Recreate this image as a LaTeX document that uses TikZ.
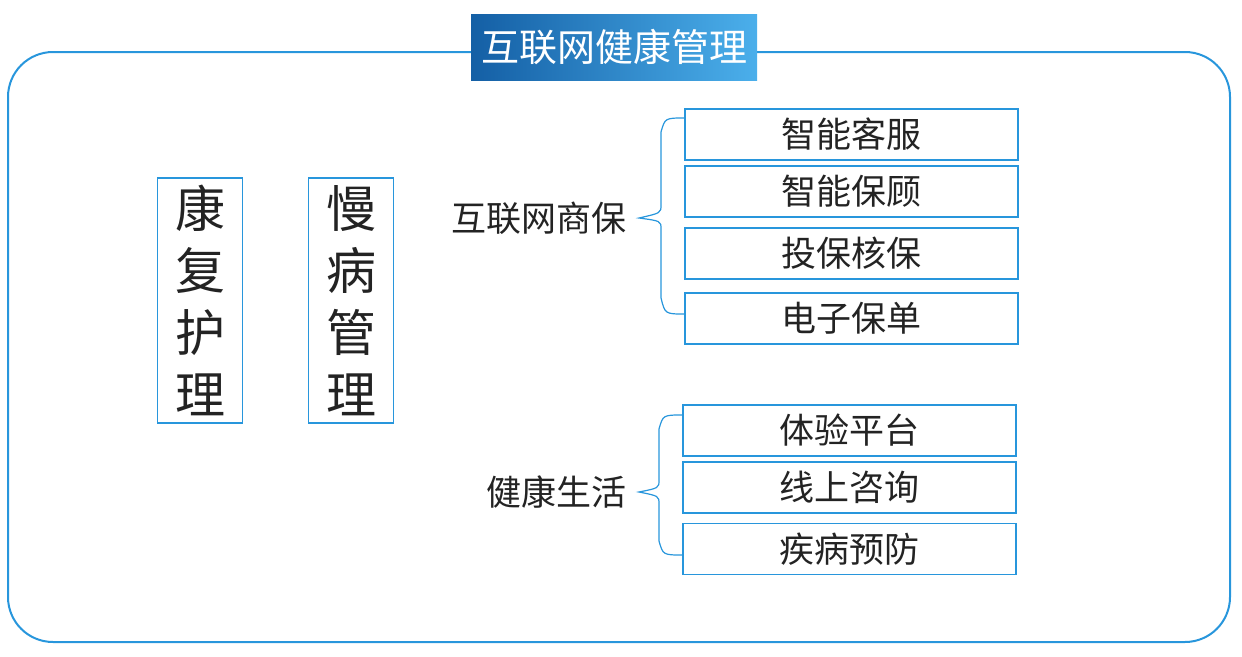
\documentclass[tikz,border=0pt]{standalone}
\usepackage{fontspec}
\setmainfont{Noto Sans CJK SC}
\definecolor{frameblue}{RGB}{40,150,220}
\definecolor{titledark}{RGB}{20,95,165}
\definecolor{titlelight}{RGB}{75,175,235}
\definecolor{textgray}{RGB}{35,35,35}
\tikzset{
  itembox/.style={draw=frameblue,line width=1.2pt,minimum width=333pt,minimum height=51pt,inner sep=0pt,font=\fontsize{35}{40}\selectfont,text=textgray},
  vbox/.style={draw=frameblue,line width=1.5pt,minimum width=85pt,minimum height=245pt,inner sep=0pt,font=\fontsize{50}{62}\selectfont,text=textgray,align=center},
  grplabel/.style={font=\fontsize{35}{40}\selectfont,text=textgray,anchor=east,inner sep=0pt},
  bracket/.style={draw=frameblue,line width=1.2pt}
}
\begin{document}
\begin{tikzpicture}[x=1pt,y=-1pt]
  \useasboundingbox (0,0) rectangle (1242,656);
  % frame
  \draw [frameblue,line width=2pt,rounded corners=45pt] (8,52) rectangle (1230,642);
  % title
  \shade [left color=titledark,right color=titlelight] (471,14) rectangle (757,80);
  \node (title) at (614,47) [text=white,font=\fontsize{38}{42}\selectfont] {互联网健康管理};
  % vertical boxes
  \node (rehab) [vbox] at (200,300.5) {康\\复\\护\\理};
  \node (chronic) [vbox] at (351,300.5) {慢\\病\\管\\理};
  % group: insurance
  \node (ins) [grplabel] at (627,218) {互联网商保};
  \node (kefu) [itembox] at (851.5,134.5) {智能客服};
  \node (baogu) [itembox] at (851.5,191.5) {智能保顾};
  \node (hebao) [itembox] at (851.5,253.5) {投保核保};
  \node (baodan) [itembox] at (851.5,318.5) {电子保单};
  \draw [bracket] (685,118) .. controls (665,118) .. (661,132) -- (661,205)
    .. controls (661,213) .. ([xshift=12pt]ins.east) .. controls (661,221) .. (661,229) -- (661,298)
    .. controls (665,314) .. (685,314);
  % group: life
  \node (life) [grplabel] at (627,492) {健康生活};
  \node (tiyan) [itembox] at (849.5,430.5) {体验平台};
  \node (zixun) [itembox] at (849.5,487.5) {线上咨询};
  \node (yufang) [itembox] at (849.5,549) {疾病预防};
  \draw [bracket] (683,415) .. controls (663,415) .. (659,429) -- (659,480)
    .. controls (659,488) .. ([xshift=12pt]life.east) .. controls (659,496) .. (659,504) -- (659,541)
    .. controls (663,555) .. (683,555);
\end{tikzpicture}
\end{document}
